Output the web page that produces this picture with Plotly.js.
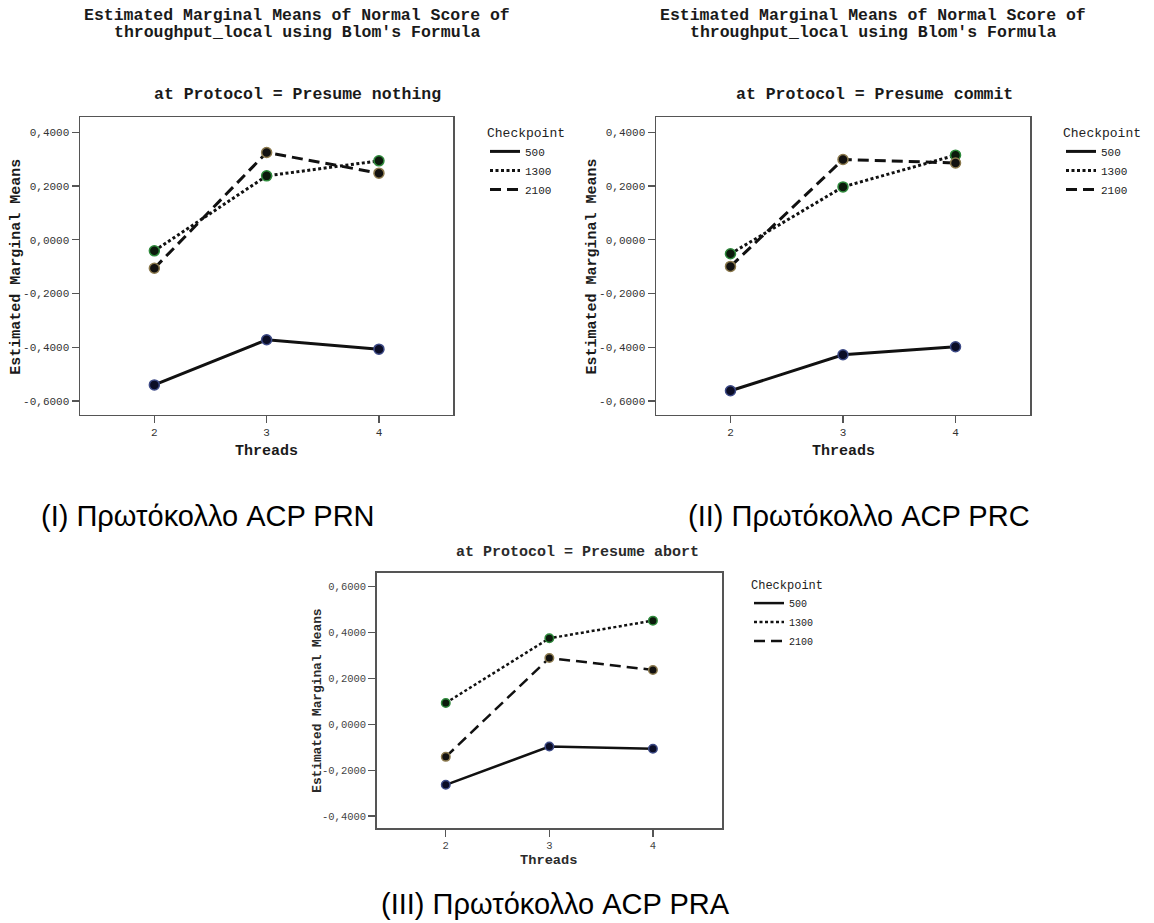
<!DOCTYPE html>
<html>
<head>
<meta charset="utf-8">
<script src="https://cdn.plot.ly/plotly-3.0.1.min.js"></script>
<style>html,body{margin:0;padding:0;background:#fff;}#chart{width:1154px;height:923px;}</style>
</head>
<body>
<div id="chart"></div>
<script>
// ---------- data ----------
const threads = [2, 3, 4];
const checkpoints = ['500', '1300', '2100'];
const yTicksTop = [-0.6, -0.4, -0.2, 0, 0.2, 0.4];
const yTicksBottom = [-0.4, -0.2, 0, 0.2, 0.4, 0.6];

// Presume nothing (PRN)
const prn500 = [-0.540, -0.372, -0.407];
const prn1300 = [-0.041, 0.238, 0.294];
const prn2100 = [-0.106, 0.325, 0.248];
// Presume commit (PRC)
const prc500 = [-0.562, -0.428, -0.398];
const prc1300 = [-0.052, 0.197, 0.315];
const prc2100 = [-0.099, 0.299, 0.286];
// Presume abort (PRA)
const pra500 = [-0.264, -0.097, -0.107];
const pra1300 = [0.093, 0.375, 0.452];
const pra2100 = [-0.142, 0.289, 0.237];

const mainTitle1 = 'Estimated Marginal Means of Normal Score of';
const mainTitle2 = "throughput_local using Blom's Formula";
const subTitles = ['at Protocol = Presume nothing', 'at Protocol = Presume commit', 'at Protocol = Presume abort'];
const captions = ['(I) Πρωτόκολλο ACP PRN', '(II) Πρωτόκολλο ACP PRC', '(III) Πρωτόκολλο ACP PRA'];
const yTitle = 'Estimated Marginal Means';
const xTitle = 'Threads';
const legendTitle = 'Checkpoint';

// ---------- layout helpers ----------
const W = 1154, H = 923;
const px = x => x / W;
const py = y => 1 - y / H;
const MONO = 'Liberation Mono, Courier New, monospace';
const SANS = 'Liberation Sans, Arial, sans-serif';
const fmt = v => v.toFixed(4).replace('.', ',');

const styles = {
  '500':  {dash: 'solid', mfill: '#0b0d26', mline: '#3d4a86'},
  '1300': {dash: '3px,2.5px', mfill: '#0c1a0c', mline: '#2f8a3c'},
  '2100': {dash: '11px,6px', mfill: '#121110', mline: '#8c7a4e'}
};

const traces = [];
function addSeries(ax, legendId, series, lw, msize) {
  series.forEach((vals, i) => {
    const cp = checkpoints[i];
    const st = styles[cp];
    traces.push({
      x: threads, y: vals, xaxis: 'x' + ax, yaxis: 'y' + ax,
      type: 'scatter', mode: 'lines', name: cp, legend: legendId,
      line: {color: '#111', width: lw, dash: st.dash}, hoverinfo: 'skip'
    });
  });
  series.forEach((vals, i) => {
    const cp = checkpoints[i];
    const st = styles[cp];
    traces.push({
      x: threads, y: vals, xaxis: 'x' + ax, yaxis: 'y' + ax,
      type: 'scatter', mode: 'markers', name: cp, showlegend: false,
      marker: {size: msize, color: st.mfill, line: {color: st.mline, width: 1.5}}, hoverinfo: 'skip'
    });
  });
}
addSeries('', 'legend', [prn500, prn1300, prn2100], 3, 10);
addSeries('2', 'legend2', [prc500, prc1300, prc2100], 3, 10);
addSeries('3', 'legend3', [pra500, pra1300, pra2100], 2.5, 8.5);

function axisCommon(fontSize, col) {
  return {
    showline: true, mirror: true, linecolor: '#555', linewidth: 1.5,
    ticks: 'outside', ticklen: 7, tickwidth: 1.2, tickcolor: '#555',
    showgrid: false, zeroline: false, fixedrange: true,
    tickfont: {family: MONO, size: fontSize, color: col}
  };
}
function xAxis(dom, range, anchor, fs, col) {
  return Object.assign(axisCommon(fs, col), {
    domain: dom, range: range, anchor: anchor,
    tickmode: 'array', tickvals: threads, ticktext: threads.map(String)
  });
}
function yAxis(dom, range, anchor, ticks, fs, col) {
  return Object.assign(axisCommon(fs, col), {
    domain: dom, range: range, anchor: anchor,
    tickmode: 'array', tickvals: ticks, ticktext: ticks.map(fmt)
  });
}

function ann(text, x, y, size, opts) {
  return Object.assign({
    text: text, x: px(x), y: py(y), xref: 'paper', yref: 'paper',
    showarrow: false, xanchor: 'center', yanchor: 'middle',
    font: {family: MONO, size: size, color: '#1a1a1a'}
  }, opts || {});
}

const capFont = {family: SANS, size: 29, color: '#000'};
const annotations = [
  // main titles
  ann('<b>' + mainTitle1 + '</b>', 297, 15.7, 16.5),
  ann('<b>' + mainTitle2 + '</b>', 297, 32.3, 16.5),
  ann('<b>' + mainTitle1 + '</b>', 873, 15.7, 16.5),
  ann('<b>' + mainTitle2 + '</b>', 873, 32.3, 16.5),
  // subtitles
  ann('<b>' + subTitles[0] + '</b>', 297.5, 94.3, 16.5),
  ann('<b>' + subTitles[1] + '</b>', 874, 94.3, 16.5),
  ann('<b>' + subTitles[2] + '</b>', 577, 552, 15, {font: {family: MONO, size: 15, color: '#2a2a2a'}}),
  // axis titles
  ann('<b>' + yTitle + '</b>', 15.7, 267, 15, {textangle: -90}),
  ann('<b>' + yTitle + '</b>', 591.5, 267, 15, {textangle: -90}),
  ann('<b>' + yTitle + '</b>', 317.3, 700.5, 12.8, {textangle: -90, font: {family: MONO, size: 12.8, color: '#2a2a2a'}}),
  ann('<b>' + xTitle + '</b>', 266.7, 451.7, 15),
  ann('<b>' + xTitle + '</b>', 843.2, 451.7, 15),
  ann('<b>' + xTitle + '</b>', 549, 860, 13.7, {font: {family: MONO, size: 13.7, color: '#2a2a2a'}}),
  // captions
  ann(captions[0], 39.3, 516, 29, {xanchor: 'left', font: capFont}),
  ann(captions[1], 686, 516, 29, {xanchor: 'left', font: capFont}),
  ann(captions[2], 379, 904, 29, {xanchor: 'left', font: capFont})
];

function legendCfg(x, y, titleSize, itemSize) {
  return {
    x: px(x), y: py(y), xref: 'paper', yref: 'paper', xanchor: 'left', yanchor: 'top',
    bgcolor: 'rgba(0,0,0,0)', borderwidth: 0, itemwidth: 30, tracegroupgap: 0,
    title: {text: legendTitle, font: {family: MONO, size: titleSize, color: '#222'}},
    font: {family: MONO, size: itemSize, color: '#222'}, itemclick: false, itemdoubleclick: false
  };
}

const layout = {
  width: W, height: H, margin: {l: 0, r: 0, t: 0, b: 0},
  paper_bgcolor: '#fff', plot_bgcolor: '#fff', showlegend: true,
  xaxis:  xAxis([px(80), px(453.3)], [1.338, 4.662], 'y', 11, '#333'),
  yaxis:  yAxis([py(414.7), py(117.3)], [-0.651, 0.456], 'x', yTicksTop, 11, '#333'),
  xaxis2: xAxis([px(656), px(1030)], [1.338, 4.662], 'y2', 11, '#333'),
  yaxis2: yAxis([py(414.7), py(117.3)], [-0.651, 0.456], 'x2', yTicksTop, 11, '#333'),
  xaxis3: xAxis([px(376.7), px(722)], [1.333, 4.667], 'y3', 10.5, '#444'),
  yaxis3: yAxis([py(828.3), py(572.7)], [-0.4536, 0.661], 'x3', yTicksBottom, 10.5, '#444'),
  legend: legendCfg(485, 120, 13, 11),
  legend2: legendCfg(1061, 120, 13, 11),
  legend3: legendCfg(749, 573, 12, 10),
  annotations: annotations
};

Plotly.newPlot('chart', traces, layout, {displayModeBar: false, staticPlot: true});
</script>
</body>
</html>
